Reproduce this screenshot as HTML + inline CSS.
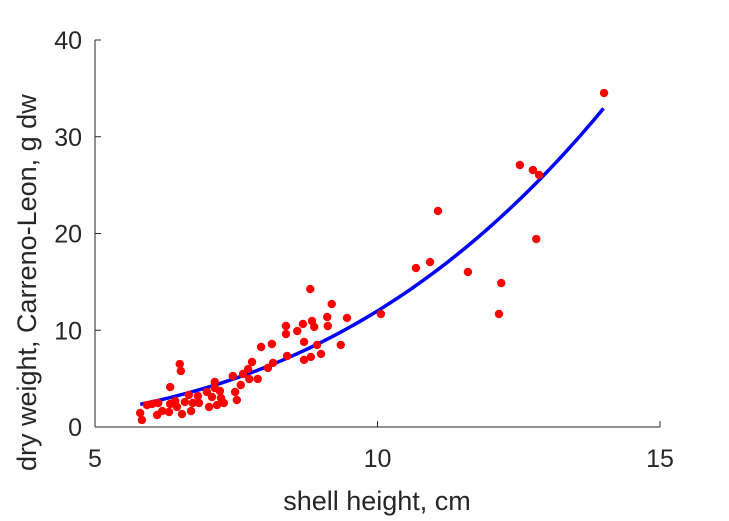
<!DOCTYPE html>
<html><head><meta charset="utf-8"><style>
html,body{margin:0;padding:0;background:#fff;}
svg{display:block;font-family:"Liberation Sans",Arial,sans-serif;}
</style></head><body>
<svg id="chart" width="729" height="521" viewBox="0 0 729 521" xmlns="http://www.w3.org/2000/svg">
<g id="axes"></g>
<g id="curve"></g>
<g id="points"></g>
<text x="377" y="510" font-size="27" text-anchor="middle" fill="#262626">shell height, cm</text>
<text transform="translate(36,471) rotate(-90)" font-size="27" text-anchor="start" fill="#262626">dry weight, Carreno-Leon, g dw</text>
</svg>
<script>
const xTicks=[5,10,15];
const yTicks=[0,10,20,30,40];
const shellHeight=[5.80,5.83,5.92,6.01,6.10,6.12,6.19,6.31,6.33,6.33,6.42,6.45,6.50,6.52,6.54,6.59,6.66,6.70,6.73,6.82,6.84,6.98,7.02,7.07,7.12,7.12,7.16,7.21,7.23,7.28,7.44,7.48,7.51,7.58,7.62,7.71,7.73,7.78,7.88,7.94,8.06,8.13,8.15,8.38,8.38,8.40,8.58,8.68,8.70,8.70,8.81,8.82,8.84,8.88,8.93,9.00,9.11,9.12,9.19,9.35,9.46,10.06,10.68,10.93,11.07,11.60,12.15,12.19,12.52,12.75,12.86,12.81,14.01];
const dryWeight=[1.45,0.72,2.27,2.38,1.24,2.48,1.65,1.55,4.13,2.38,2.69,2.07,6.51,5.79,1.34,2.58,3.31,1.65,2.48,3.20,2.48,3.62,2.07,3.10,4.65,4.03,2.27,3.72,3.00,2.48,5.27,3.62,2.79,4.34,5.48,5.99,4.96,6.72,4.96,8.27,6.10,8.58,6.62,10.44,9.61,7.34,9.92,10.65,8.79,6.93,14.26,7.24,10.96,10.34,8.48,7.55,11.37,10.44,12.71,8.48,11.27,11.68,16.43,17.05,22.33,16.02,11.68,14.88,27.08,26.56,26.05,19.43,34.52];
const fitA=0.012, fitB=3.0, fitRange=[5.8,14.0];

const NS="http://www.w3.org/2000/svg";
const X0=95,X1=660,Y0=427,Y1=40;
const sx=v=>X0+(v-5)/(15-5)*(X1-X0);
const sy=v=>Y0-(v-0)/(40-0)*(Y0-Y1);
function mk(tag,attrs,parent){const e=document.createElementNS(NS,tag);for(const k in attrs)e.setAttribute(k,attrs[k]);parent.appendChild(e);return e;}
const axes=document.getElementById('axes');
let l=mk('line',{x1:X0,y1:Y1,x2:X0,y2:Y0,stroke:'#262626','stroke-width':1},axes);


l=mk('line',{x1:X0,y1:Y0,x2:X1,y2:Y0,stroke:'#262626','stroke-width':1},axes);


yTicks.forEach(t=>{
 const y=sy(t);
 const tk=mk('line',{x1:X0,y1:y,x2:X0+6,y2:y,stroke:'#262626'},axes);
 
 
 const tx=mk('text',{x:82,y:y+9,'font-size':25,'text-anchor':'end',fill:'#262626'},axes);
 tx.textContent=t;
 
 
});
xTicks.forEach(t=>{
 const x=sx(t);
 const tk=mk('line',{x1:x,y1:Y0,x2:x,y2:Y0-6,stroke:'#262626'},axes);
 
 
 const tx=mk('text',{x:x,y:467,'font-size':25,'text-anchor':'middle',fill:'#262626'},axes);
 tx.textContent=t;
 
 
});
let d='';
for(let i=0;i<=80;i++){const xv=fitRange[0]+(fitRange[1]-fitRange[0])*i/80;const yv=fitA*Math.pow(xv,fitB);d+=(i?'L':'M')+sx(xv).toFixed(2)+','+sy(yv).toFixed(2);}
const path=mk('path',{d:d,fill:'none',stroke:'#0000ff','stroke-width':3.5},document.getElementById('curve'));


const pts=document.getElementById('points');
shellHeight.forEach((xv,i)=>{
 const c=mk('circle',{cx:sx(xv),cy:sy(dryWeight[i]),r:4.2,fill:'#ff0000'},pts);
 
 
});
</script>
</body></html>
